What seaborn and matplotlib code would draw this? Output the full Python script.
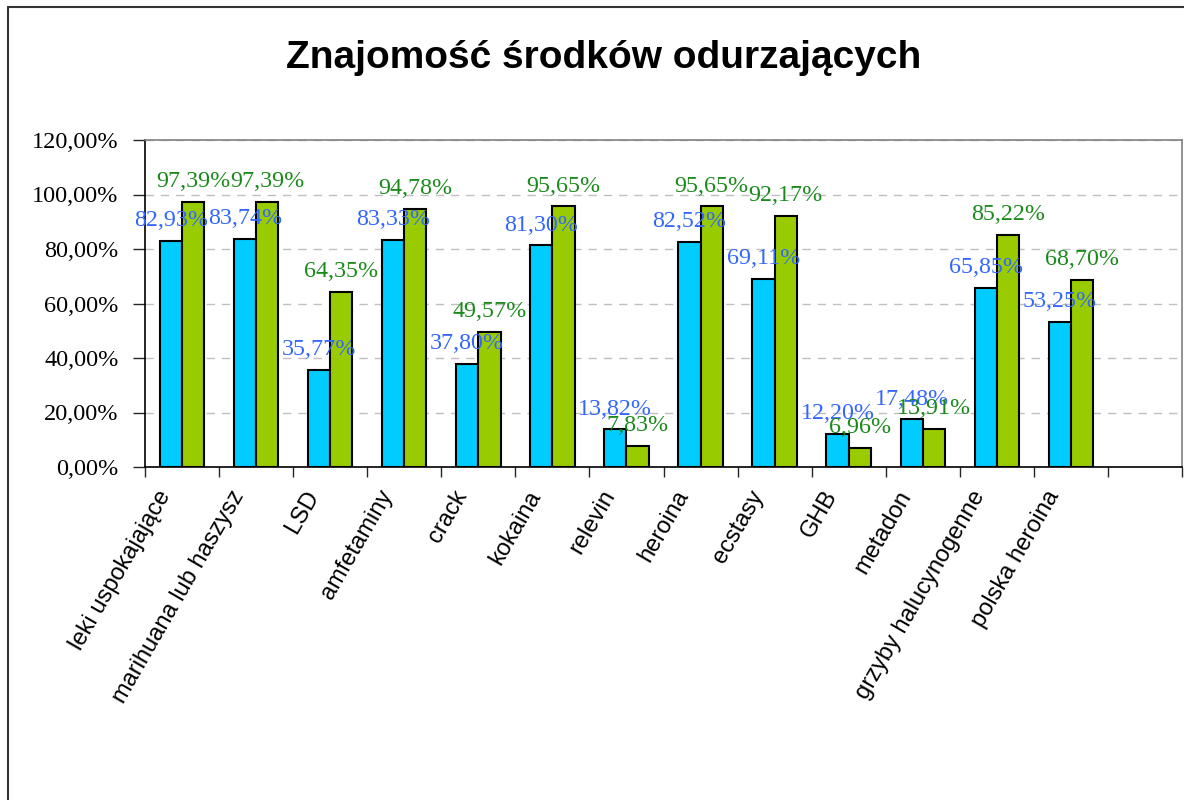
import numpy as np
import pandas as pd
import matplotlib.pyplot as plt
import matplotlib.transforms as mtransforms
import seaborn as sns
from matplotlib.lines import Line2D

# dane z wykresu
kategorie = ["leki uspokajające", "marihuana lub haszysz", "LSD", "amfetaminy",
             "crack", "kokaina", "relevin", "heroina", "ecstasy", "GHB",
             "metadon", "grzyby halucynogenne", "polska heroina", " "]
seria1 = [82.93, 83.74, 35.77, 83.33, 37.80, 81.30, 13.82, 82.52, 69.11,
          12.20, 17.48, 65.85, 53.25, np.nan]
seria2 = [97.39, 97.39, 64.35, 94.78, 49.57, 95.65, 7.83, 95.65, 92.17,
          6.96, 13.91, 85.22, 68.70, np.nan]
y_ticks = [0, 20, 40, 60, 80, 100, 120]

df = pd.DataFrame({
    "kategoria": kategorie * 2,
    "seria": ["s1"] * len(kategorie) + ["s2"] * len(kategorie),
    "wartosc": seria1 + seria2,
})

sns.set_style("white")
plt.rcParams["font.family"] = ["Liberation Serif", "DejaVu Serif"]
plt.rcParams["text.color"] = "black"

fig = plt.figure(figsize=(11.84, 8), dpi=100)
ax = fig.add_axes([145 / 1184, 1 - 467 / 800, (1182 - 145) / 1184, (467 - 140) / 800])

sns.barplot(data=df, x="kategoria", y="wartosc", hue="seria", order=kategorie,
            palette={"s1": "#00CCFF", "s2": "#99CC00"}, width=0.6,
            edgecolor="black", linewidth=1.5, saturation=1, legend=False, ax=ax)

# etykiety danych
kolory = {0: "#3366FF", 1: "#1A8A1A"}
for i, cont in enumerate(ax.containers):
    for bar in cont:
        h = bar.get_height()
        if np.isnan(h):
            continue
        ax.annotate(f"{h:.2f}%".replace(".", ","),
                    (bar.get_x() + bar.get_width() / 2, h),
                    xytext=(0, 7), textcoords="offset points",
                    ha="center", va="bottom", fontsize=17.3, color=kolory[i])

ax.set_xlim(-0.5, len(kategorie) - 0.5)
ax.set_ylim(0, 120)
ax.set_yticks(y_ticks)
ax.set_yticklabels([f"{v},00%" for v in y_ticks], fontsize=17.5, color="black")
ax.yaxis.grid(True, linestyle=(0, (6, 5)), color="#C0C0C0", linewidth=1)
ax.set_axisbelow(True)

ax.set_xticks(range(len(kategorie)))
ax.set_xticks(np.arange(-0.5, len(kategorie)), minor=True)
ax.tick_params(axis="x", which="major", length=0, pad=14)
ax.tick_params(axis="x", which="minor", length=7, width=1, direction="out", bottom=True)
ax.tick_params(axis="y", length=9, width=1, direction="out", left=True, pad=10)
ax.set_xticklabels(kategorie, rotation=60, ha="right", rotation_mode="anchor",
                   fontsize=17, color="black", family=["Liberation Sans", "DejaVu Sans"])
# przesunięcie podpisów osi X w lewo
przesun = mtransforms.ScaledTranslation(-26 / 100, 0, fig.dpi_scale_trans)
for lab in ax.get_xticklabels():
    lab.set_transform(lab.get_transform() + przesun)
ax.set_xlabel("")
ax.set_ylabel("")

for s in ["left", "bottom"]:
    ax.spines[s].set_color("black")
    ax.spines[s].set_linewidth(1.2)
for s in ["top", "right"]:
    ax.spines[s].set_color("#808080")
    ax.spines[s].set_linewidth(1.2)

fig.text(604 / 1184, 1 - 58 / 800, "Znajomość środków odurzających",
         ha="center", va="center", fontsize=28, fontweight="bold", color="black",
         family=["Liberation Sans", "DejaVu Sans"])

# ramka wykresu
fig.add_artist(Line2D([8 / 1184, 8 / 1184], [0, 1 - 7 / 800], color="#333333", lw=1.5))
fig.add_artist(Line2D([8 / 1184, 1], [1 - 7 / 800, 1 - 7 / 800], color="#333333", lw=1.5))

fig.savefig("out.png", dpi=100)
